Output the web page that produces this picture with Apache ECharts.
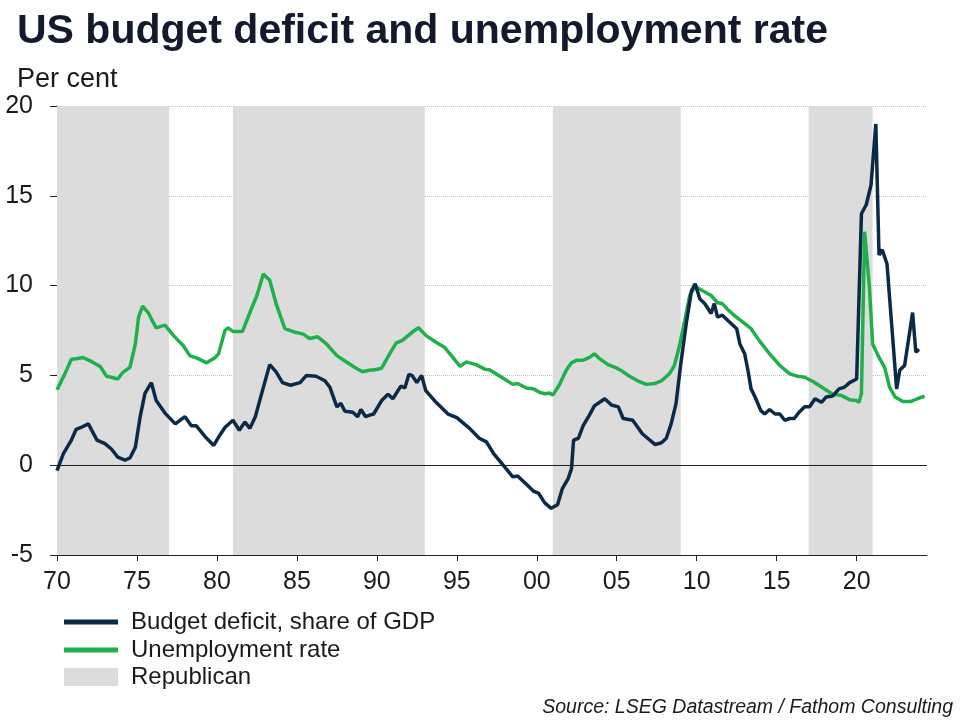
<!DOCTYPE html>
<html>
<head>
<meta charset="utf-8">
<script src="https://cdn.jsdelivr.net/npm/echarts@6/dist/echarts.min.js"></script>
<style>html,body{margin:0;padding:0;background:#fff}#c{width:960px;height:720px}</style>
</head>
<body>
<div id="c"></div>
<script>
// Budget deficit, share of GDP (per cent)
var deficitYears = [1970.0,1970.4,1970.9,1971.2,1971.5,1971.96,1972.5,1973.0,1973.4,1973.8,1974.25,1974.56,1974.9,1975.2,1975.5,1975.9,1976.2,1976.75,1977.4,1978.0,1978.4,1978.7,1979.25,1979.8,1980.2,1980.5,1981.0,1981.4,1981.75,1982.06,1982.4,1982.8,1983.3,1983.7,1984.1,1984.6,1985.2,1985.6,1986.2,1986.75,1987.06,1987.5,1987.75,1988.0,1988.5,1988.8,1989.0,1989.3,1989.6,1989.8,1990.3,1990.7,1991.0,1991.5,1991.75,1992.0,1992.2,1992.5,1992.8,1993.06,1993.7,1994.45,1995.0,1995.8,1996.4,1996.85,1997.3,1997.9,1998.5,1998.8,1999.4,1999.8,2000.1,2000.5,2000.9,2001.3,2001.6,2001.96,2002.17,2002.3,2002.6,2002.9,2003.3,2003.6,2004.25,2004.67,2005.1,2005.4,2006.0,2006.6,2007.4,2007.8,2008.1,2008.4,2008.7,2009.0,2009.35,2009.67,2009.9,2010.2,2010.5,2010.9,2011.1,2011.3,2011.6,2012.2,2012.5,2012.7,2013.0,2013.2,2013.4,2013.7,2014.0,2014.25,2014.56,2014.9,2015.2,2015.5,2015.8,2016.1,2016.4,2016.75,2017.06,2017.4,2017.8,2018.1,2018.5,2018.9,2019.25,2019.56,2020.0,2020.08,2020.3,2020.6,2020.9,2021.2,2021.4,2021.6,2021.9,2022.5,2022.7,2023.0,2023.5,2023.7,2023.9];
var deficitValues = [-0.3,0.65,1.4,2.0,2.1,2.3,1.4,1.2,0.9,0.45,0.28,0.4,1.0,2.7,4.0,4.6,3.6,2.9,2.3,2.7,2.2,2.2,1.6,1.1,1.7,2.1,2.5,1.95,2.4,2.05,2.7,4.0,5.6,5.2,4.6,4.45,4.6,5.0,4.95,4.7,4.35,3.25,3.45,3.0,2.95,2.7,3.1,2.7,2.8,2.85,3.6,3.95,3.7,4.4,4.3,5.05,5.0,4.6,5.0,4.15,3.5,2.85,2.65,2.05,1.5,1.3,0.65,0.0,-0.65,-0.6,-1.1,-1.45,-1.55,-2.1,-2.4,-2.2,-1.3,-0.75,-0.2,1.4,1.5,2.2,2.8,3.3,3.7,3.35,3.25,2.6,2.5,1.75,1.15,1.25,1.5,2.3,3.4,5.6,7.9,9.7,10.1,9.25,9.0,8.45,9.0,8.25,8.35,7.85,7.6,6.75,6.2,5.3,4.25,3.7,3.05,2.85,3.1,2.85,2.85,2.5,2.6,2.6,2.95,3.25,3.25,3.7,3.5,3.8,3.85,4.25,4.35,4.6,4.8,4.8,14.0,14.5,15.6,19.0,11.7,12.0,11.2,4.25,5.3,5.55,8.5,6.3,6.45];

// Unemployment rate (per cent)
var unempYears = [1970.0,1970.5,1970.9,1971.2,1971.6,1972.2,1972.7,1973.1,1973.4,1973.8,1974.1,1974.56,1974.9,1975.1,1975.35,1975.7,1975.9,1976.2,1976.75,1977.3,1977.9,1978.3,1978.8,1979.35,1979.9,1980.1,1980.5,1980.7,1981.0,1981.6,1982.06,1982.5,1982.9,1983.3,1983.7,1984.25,1984.9,1985.4,1985.8,1986.3,1986.85,1987.5,1988.1,1988.6,1989.1,1989.6,1989.8,1990.3,1990.8,1991.2,1991.6,1992.2,1992.6,1993.1,1993.7,1994.25,1994.8,1995.2,1995.6,1996.2,1996.75,1997.06,1997.7,1998.5,1998.8,1999.35,1999.8,2000.2,2000.5,2000.8,2001.0,2001.4,2001.85,2002.17,2002.5,2002.9,2003.3,2003.6,2003.9,2004.45,2004.9,2005.4,2005.8,2006.3,2006.85,2007.4,2007.8,2008.3,2008.6,2008.9,2009.25,2009.56,2009.9,2010.4,2010.9,2011.3,2011.6,2011.9,2012.4,2012.9,2013.4,2013.9,2014.56,2015.2,2015.8,2016.3,2016.75,2017.3,2017.9,2018.5,2019.0,2019.56,2020.0,2020.15,2020.3,2020.5,2020.8,2021.0,2021.4,2021.75,2022.06,2022.4,2022.9,2023.4,2023.8,2024.25];
var unempValues = [4.2,5.1,5.9,5.93,6.0,5.75,5.5,4.95,4.9,4.8,5.15,5.45,6.75,8.25,8.85,8.5,8.15,7.65,7.8,7.2,6.65,6.1,5.95,5.7,6.0,6.2,7.5,7.65,7.45,7.45,8.5,9.45,10.65,10.3,9.0,7.6,7.4,7.3,7.05,7.15,6.75,6.1,5.75,5.45,5.2,5.3,5.3,5.4,6.2,6.8,6.95,7.4,7.65,7.2,6.85,6.55,5.95,5.5,5.75,5.6,5.35,5.3,4.95,4.5,4.55,4.3,4.25,4.05,3.98,4.02,3.9,4.45,5.3,5.7,5.85,5.85,6.0,6.2,5.95,5.6,5.45,5.2,4.95,4.7,4.5,4.55,4.7,5.1,5.55,6.55,8.05,9.45,9.95,9.7,9.45,9.05,9.0,8.7,8.3,7.95,7.6,6.95,6.2,5.55,5.1,4.95,4.9,4.65,4.3,3.95,3.9,3.65,3.6,3.5,4.0,13.0,9.9,6.75,6.0,5.45,4.35,3.8,3.55,3.55,3.7,3.85];

// Republican administrations
var republicanStart = [1970, 1981, 2001, 2017];
var republicanEnd = [1977, 1993, 2009, 2021];

var yTicks = [-5, 0, 5, 10, 15, 20];
var xTickYears = [1970, 1975, 1980, 1985, 1990, 1995, 2000, 2005, 2010, 2015, 2020];

var seriesNames = ['Budget deficit, share of GDP', 'Unemployment rate', 'Republican'];

function pairs(xs, ys) { return xs.map(function (x, i) { return [x, ys[i]]; }); }

var FONT = '"Liberation Sans", Arial, sans-serif';
var TXT = '#1a1a1a';

var chart = echarts.init(document.getElementById('c'), null, { renderer: 'canvas' });
chart.setOption({
  animation: false,
  backgroundColor: '#ffffff',
  textStyle: { fontFamily: FONT },
  title: [
    { text: 'US budget deficit and unemployment rate', left: 12, top: 6,
      textStyle: { fontFamily: FONT, fontSize: 41, fontWeight: 'bold', color: '#141a2c' } },
    { text: 'Per cent', left: 12, top: 61,
      textStyle: { fontFamily: FONT, fontSize: 27, fontWeight: 'normal', color: TXT } },
    { text: 'Source: LSEG Datastream / Fathom Consulting', right: 2, top: 693,
      textStyle: { fontFamily: FONT, fontSize: 19.5, fontStyle: 'italic', fontWeight: 'normal', color: TXT } }
  ],
  grid: { left: 57, right: 33, top: 106, bottom: 165, containLabel: false },
  legend: [
    { orient: 'vertical', left: 64, top: 610, padding: 0, itemWidth: 54, itemHeight: 5, itemGap: 4,
      icon: 'rect', selectedMode: false,
      data: [seriesNames[0], seriesNames[1]],
      textStyle: { fontFamily: FONT, fontSize: 24, color: TXT, lineHeight: 23, padding: [0, 0, 0, 8] } },
    { orient: 'vertical', left: 64, top: 665, padding: 0, itemWidth: 54, itemHeight: 18, icon: 'rect', selectedMode: false,
      data: [seriesNames[2]],
      textStyle: { fontFamily: FONT, fontSize: 24, color: TXT, lineHeight: 23, padding: [0, 0, 0, 8] } }
  ],
  xAxis: {
    type: 'value', min: 1970, max: 2024.4, interval: 5,
    axisLine: { show: true, onZero: false, lineStyle: { color: '#222', width: 1 } },
    axisTick: { show: true, length: 6, customValues: xTickYears, lineStyle: { color: '#222' } },
    splitLine: { show: false },
    axisLabel: {
      fontFamily: FONT, fontSize: 25, color: TXT, margin: 15, customValues: xTickYears,
      formatter: function (v) { return String(v).slice(2); }
    }
  },
  yAxis: {
    type: 'value', min: yTicks[0], max: yTicks[yTicks.length - 1], interval: 5,
    axisLine: { show: true, lineStyle: { color: '#222', width: 1 } },
    axisTick: { show: true, length: 7, lineStyle: { color: '#222' } },
    splitLine: { show: true, lineStyle: { color: '#c4c4c4', type: 'dotted', width: 1 } },
    axisLabel: { fontFamily: FONT, fontSize: 25, color: TXT, margin: 24 }
  },
  series: [
    { name: seriesNames[2], type: 'line', data: [], color: '#dcdcdc', z: 1,
      markArea: { silent: true, itemStyle: { color: '#dcdcdc' },
        data: republicanStart.map(function (s, i) { return [{ xAxis: s }, { xAxis: republicanEnd[i] }]; }) },
      markLine: { silent: true, symbol: 'none', label: { show: false },
        lineStyle: { color: '#222', type: 'solid', width: 1 },
        data: [{ yAxis: 0 }] } },
    { name: seriesNames[1], type: 'line', data: pairs(unempYears, unempValues), showSymbol: false,
      color: '#1fb04b', lineStyle: { width: 3.5, color: '#1fb04b' }, z: 3 },
    { name: seriesNames[0], type: 'line', data: pairs(deficitYears, deficitValues), showSymbol: false,
      color: '#0b2a47', lineStyle: { width: 3.5, color: '#0b2a47' }, z: 4 }
  ]
});
</script>
</body>
</html>
